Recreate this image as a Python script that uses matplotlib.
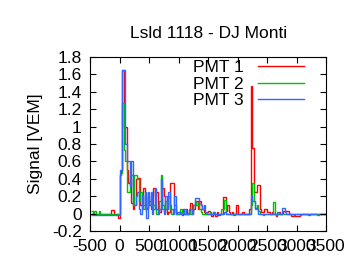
import numpy as np
import matplotlib.pyplot as plt

plt.rcParams['font.family'] = ['Liberation Sans', 'DejaVu Sans']
plt.rcParams['axes.unicode_minus'] = False

# Trace data, 25 ns bins starting at -475 ns
t0 = -475
bin_ns = 25

pmt1 = [0, 0, 0, 0, 0, 0, 0, 0, 0, 0, 0, 0, 0, 0.04, 0.04, 0, 0, 0, -0.05,
        0.45, 0.5, 1.65, 1.0, 1.0, 0.5, 0.35, 0.4, 0.12, 0.05, 0.1, 0.4, 0.41, 0.41, 0.1, 0.05, 0.3, 0.25, 0.06, 0.2,
        0.15, 0.05, 0.1, 0.3, 0.2, 0.25, 0.05, 0.02, 0.1, 0.3, 0.2, 0.05, 0.0, 0.02, 0.35, 0.35, 0.35, 0.1, 0.02, 0.0,
        0.0, 0.02, -0.02, 0.05, 0.0, 0.05, 0.0, 0.02, 0.12, 0.0, 0.05, 0.1, 0.15, 0.05, 0.15, 0.1, 0.05, 0.02, 0.0, 0.02,
        0.03, 0.0, -0.03, 0.02, 0.0, -0.03, 0.02, -0.02, 0.0, 0.0, 0.19, 0.19, 0.03, 0.1, 0.02, 0.0, 0.02, 0.0, 0.0, 0.1,
        0.0, 0.0, 0.0, 0.02, 0.0, 0.0, 0.0, 0.0, 0.05, 1.47, 0.75, 0.25, 0.25, 0.33, 0.33, 0.05, 0.02, 0.02, 0.05, 0.05,
        0.02, 0.02, 0.0, 0.02, 0.0, 0.0, -0.03, 0.0, 0.02, 0.0, 0.0, 0.03, 0.03, 0.03, 0.03, 0.0, -0.03, -0.03, -0.02, -0.03,
        -0.03, -0.03, 0, 0, 0, 0, 0, 0, 0, 0, 0, 0, 0, 0, 0, 0, 0, 0, 0, 0]

pmt2 = [0.03, 0, 0.03, 0, 0, 0.03, 0, 0, 0, 0, 0, 0, 0, 0, 0, 0, 0, 0, 0,
        0.45, 0.47, 1.27, 0.73, 0.6, 0.25, 0.25, 0.44, 0.44, 0.1, 0.44, 0.44, 0.4, 0.15, 0.25, 0.1, 0.05, 0.2, 0.05, 0.12,
        0.1, 0.2, 0.05, 0.1, 0.05, 0.0, 0.05, 0.15, 0.44, 0.1, 0.02, 0.15, 0.05, 0.2, 0.05, 0.0, 0.02, 0.05, 0.0, 0.0,
        0.0, 0.05, 0.0, 0.02, 0.0, 0.0, 0.0, 0.05, 0.0, 0.02, 0.1, 0.15, 0.1, 0.12, 0.05, 0.02, 0.0, 0.0, 0.0, 0.0,
        0.0, 0.02, 0.0, 0.0, 0.02, 0.0, 0.0, 0.0, 0.0, 0.05, 0.05, 0.16, 0.0, 0.0, 0.0, 0.0, 0.0, 0.0, 0.0, 0.0,
        0.0, 0.0, 0.0, 0.0, 0.0, 0.0, 0.0, 0.0, 0.0, 0.1, 0.35, 0.15, 0.05, 0.1, 0.03, 0.0, 0.0, 0.0, 0.0, 0.0,
        0.0, 0.0, 0.0, 0.0, 0.14, 0.0, 0.0, 0.0, 0.0, 0.0, 0.0, 0.0, 0.0, 0.0, 0.0, 0.0, 0.0, 0.0, 0.0, 0.0,
        0, 0, 0, 0, 0, 0, 0, 0, 0, 0, 0, 0, 0, 0, 0, 0, 0, 0, 0, 0]

pmt3 = [-0.01, -0.01, -0.01, -0.01, -0.01, -0.01, -0.01, -0.01, -0.01, -0.01, -0.01, -0.01, -0.01, -0.01, -0.01, -0.01, -0.01, -0.01, -0.01,
        0.5, 0.5, 1.65, 1.65, 0.8, 0.6, 0.6, 0.32, 0.6, 0.1, 0.1, 0.2, 0.25, 0.05, 0.0, 0.22, 0.1, 0.25, -0.05, 0.25,
        0.1, 0.25, 0.0, 0.05, 0.3, 0.05, 0.0, 0.05, 0.4, 0.05, 0.0, 0.2, 0.05, 0.25, 0.1, 0.05, 0.0, 0.2, 0.0, 0.02,
        0.02, 0.0, 0.0, 0.0, 0.05, 0.0, 0.0, 0.03, 0.05, 0.0, 0.1, 0.18, 0.18, 0.18, 0.12, 0.1, 0.05, 0.1, 0.02, 0.0,
        0.0, 0.0, 0.0, 0.02, 0.0, 0.0, 0.0, 0.0, 0.0, 0.0, 0.0, 0.02, 0.0, 0.0, 0.0, 0.0, 0.0, -0.02, 0.0, 0.0,
        0.0, 0.0, 0.0, 0.0, 0.0, 0.0, 0.0, 0.0, 0.0, 0.2, 0.15, 0.15, 0.07, 0.05, 0.0, 0.0, 0.0, -0.02, 0.0, 0.0,
        0.0, 0.0, 0.0, 0.0, 0.0, 0.0, -0.01, 0.02, 0.0, 0.0, 0.07, 0.07, 0.02, 0.0, 0.0, 0.0, 0.0, 0.0, 0.0, 0.0,
        0, 0, -0.02, 0, 0, 0, 0, 0, -0.02, 0, 0, 0, 0, 0, -0.02, 0, 0, 0, 0, 0]

labels = ['PMT 1', 'PMT 2', 'PMT 3']
colors = ['#ff0000', '#00c000', '#3366ff']

fig = plt.figure(figsize=(3.6, 2.7), dpi=100)
ax = fig.add_axes([0.25, 0.144, 0.656, 0.645])

for vals, lab, col in zip([pmt1, pmt2, pmt3], labels, colors):
    edges = t0 + bin_ns * np.arange(len(vals) + 1)
    ax.stairs(vals, edges, color=col, linewidth=1.0, label=lab, baseline=None)

ax.set_xlim(-500, 3500)
ax.set_ylim(-0.2, 1.8)
ax.set_xticks(np.arange(-500, 3501, 500))
ax.set_yticks(np.arange(-0.2, 1.81, 0.2))
ax.yaxis.set_major_formatter(plt.FuncFormatter(lambda v, p: '%g' % round(v, 1)))
ax.tick_params(direction='in', top=True, right=True, length=4, labelsize=12.5, pad=6)
ax.set_ylabel('Signal [VEM]', fontsize=12.5, labelpad=6)
ax.set_title('Lsld 1118 - DJ Monti', fontsize=12.5, pad=14)

ax.legend(loc='upper right', bbox_to_anchor=(0.945, 1.035), frameon=False,
          markerfirst=False, fontsize=12.5, handlelength=2.7, labelspacing=0.1,
          borderaxespad=0.1, handletextpad=0.8)

fig.savefig('out.png', dpi=100)
